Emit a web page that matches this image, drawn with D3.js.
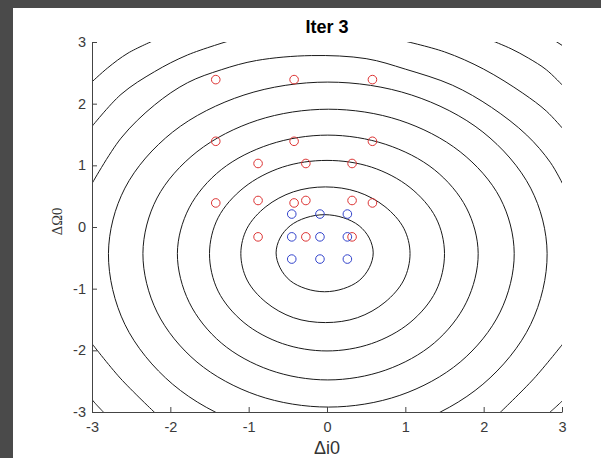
<!DOCTYPE html>
<html>
<head>
<meta charset="utf-8">
<title>Iter 3</title>
<script src="https://cdn.jsdelivr.net/npm/d3@7"></script>
<style>
  body { margin: 0; background: #4a4a4a; }
  svg { display: block; font-family: "Liberation Sans", Arial, sans-serif; }
</style>
</head>
<body>
<div id="chart"></div>
<script>
// Tick values on both axes
const xTicks = [-3, -2, -1, 0, 1, 2, 3];
const yTicks = [-3, -2, -1, 0, 1, 2, 3];

// Sample points
const redPoints = [
    [-1.42, 2.39], [-0.42, 2.39], [0.58, 2.39],
    [-1.42, 1.39], [-0.42, 1.39], [0.58, 1.39],
    [-1.42, 0.39], [-0.42, 0.39], [0.58, 0.39],
    [-0.88, 1.03], [-0.27, 1.03], [0.32, 1.03],
    [-0.88, 0.43], [-0.27, 0.43], [0.32, 0.43],
    [-0.88, -0.16], [-0.27, -0.16], [0.32, -0.16]
];
const bluePoints = [
    [-0.45, 0.21], [-0.09, 0.21], [0.26, 0.21],
    [-0.45, -0.16], [-0.09, -0.16], [0.26, -0.16],
    [-0.45, -0.52], [-0.09, -0.52], [0.26, -0.52]
];

// Closed contour rings, innermost first
const closedContours = [
    [[0.59,-0.42],[0.54,-0.18],[0.41,0.02],[0.21,0.15],[-0.03,0.20],[-0.27,0.15],[-0.47,0.02],[-0.60,-0.18],
     [-0.65,-0.42],[-0.60,-0.66],[-0.47,-0.87],[-0.27,-1.00],[-0.03,-1.05],[0.21,-1.00],[0.41,-0.87],[0.54,-0.66]],
    [[1.06,-0.43],[0.98,-0.02],[0.74,0.33],[0.39,0.57],[-0.02,0.65],[-0.43,0.57],[-0.78,0.33],[-1.02,-0.02],
     [-1.10,-0.43],[-1.02,-0.86],[-0.78,-1.22],[-0.43,-1.47],[-0.02,-1.55],[0.39,-1.47],[0.74,-1.22],[0.98,-0.86]],
    [[1.50,-0.43],[1.39,0.15],[1.06,0.64],[0.57,0.97],[0.00,1.08],[-0.57,0.97],[-1.06,0.64],[-1.39,0.15],
     [-1.50,-0.43],[-1.39,-1.04],[-1.06,-1.55],[-0.57,-1.89],[0.00,-2.01],[0.57,-1.89],[1.06,-1.55],[1.39,-1.04]],
    [[1.93,-0.43],[1.78,0.31],[1.37,0.93],[0.75,1.34],[0.01,1.49],[-0.73,1.34],[-1.35,0.93],[-1.76,0.31],
     [-1.91,-0.43],[-1.76,-1.22],[-1.35,-1.88],[-0.73,-2.32],[0.01,-2.48],[0.75,-2.32],[1.37,-1.88],[1.78,-1.22]],
    [[2.39,-0.43],[2.21,0.47],[1.70,1.22],[0.93,1.73],[0.02,1.91],[-0.89,1.73],[-1.66,1.22],[-2.17,0.47],
     [-2.35,-0.43],[-2.17,-1.38],[-1.66,-2.19],[-0.89,-2.73],[0.02,-2.92],[0.93,-2.73],[1.70,-2.19],[2.21,-1.38]],
    [[2.81,-0.43],[2.60,0.63],[1.99,1.54],[1.08,2.14],[0.01,2.35],[-1.06,2.14],[-1.97,1.54],[-2.58,0.63],
     [-2.79,-0.43],[-2.58,-1.58],[-1.97,-2.55],[-1.06,-3.20],[0.01,-3.43],[1.08,-3.20],[1.99,-2.55],[2.60,-1.58]]
];

// Contour pieces cut by the axes box
const openContours = [
    [[-3.02,0.66],[-2.63,1.44],[-2.20,1.98],[-1.78,2.34],[-1.35,2.55],[-0.90,2.70],[-0.20,2.78],
     [0.50,2.73],[1.00,2.56],[1.60,2.30],[2.10,1.94],[2.55,1.49],[2.85,1.05],[3.02,0.67]],
    [[-3.02,-1.86],[-2.64,-2.45],[-2.19,-3.02]],
    [[3.02,-1.88],[2.64,-2.46],[2.20,-3.02]],
    [[-1.22,3.03],[-1.78,2.79],[-2.20,2.52],[-2.63,2.15],[-3.02,1.60]],
    [[0.94,3.03],[1.50,2.84],[2.00,2.56],[2.50,2.17],[2.80,1.88],[3.02,1.58]],
    [[-3.02,-2.77],[-2.93,-2.90],[-2.84,-3.02]],
    [[3.02,-2.80],[2.92,-2.92],[2.83,-3.02]],
    [[-2.20,3.03],[-2.54,2.82],[-2.80,2.58],[-3.02,2.33]],
    [[2.09,3.03],[2.35,2.89],[2.57,2.74],[2.80,2.55],[3.02,2.28]],
    [[2.91,3.02],[3.02,2.93]]
];

const W = 601, H = 458;
const plot = {left: 92, right: 562, top: 42, bottom: 412};

const svg = d3.select("#chart").append("svg")
    .attr("width", W)
    .attr("height", H);

// figure background
svg.append("rect").attr("width", W).attr("height", H).attr("fill", "#4a4a4a");
svg.append("rect").attr("x", 13).attr("y", 8).attr("width", W - 13).attr("height", H - 8).attr("fill", "#ffffff");

const x = d3.scaleLinear().domain([-3, 3]).range([plot.left, plot.right]);
const y = d3.scaleLinear().domain([-3, 3]).range([plot.bottom, plot.top]);

svg.append("clipPath").attr("id", "plot-clip")
    .append("rect")
    .attr("x", plot.left).attr("y", plot.top)
    .attr("width", plot.right - plot.left)
    .attr("height", plot.bottom - plot.top);

const contourLayer = svg.append("g").attr("clip-path", "url(#plot-clip)");

const ring = d3.line().x(d => x(d[0])).y(d => y(d[1])).curve(d3.curveCatmullRomClosed);
const arc = d3.line().x(d => x(d[0])).y(d => y(d[1])).curve(d3.curveCatmullRom);

contourLayer.selectAll("path.ring")
    .data(closedContours)
    .enter().append("path")
    .attr("class", "ring")
    .attr("d", ring)
    .attr("fill", "none")
    .attr("stroke", "#1a1a1a")
    .attr("stroke-width", 1);

contourLayer.selectAll("path.arc")
    .data(openContours)
    .enter().append("path")
    .attr("class", "arc")
    .attr("d", arc)
    .attr("fill", "none")
    .attr("stroke", "#1a1a1a")
    .attr("stroke-width", 1);

// Axes (MATLAB style: inward ticks, no box)
const fmt = d => String(d);

const xAxis = svg.append("g")
    .attr("transform", `translate(0,${plot.bottom})`)
    .call(d3.axisBottom(x).tickValues(xTicks).tickFormat(fmt).tickSizeInner(-5).tickSizeOuter(0).tickPadding(10));

const yAxis = svg.append("g")
    .attr("transform", `translate(${plot.left},0)`)
    .call(d3.axisLeft(y).tickValues(yTicks).tickFormat(fmt).tickSizeInner(-5).tickSizeOuter(0).tickPadding(6));

[xAxis, yAxis].forEach(g => {
    g.select(".domain").attr("stroke", "#444");
    g.selectAll(".tick line").attr("stroke", "#444");
    g.selectAll(".tick text")
        .attr("fill", "#3a3a3a")
        .style("font-size", "14.5px")
        .style("font-family", "'Liberation Sans', Arial, sans-serif");
});

// Markers
svg.append("g").selectAll("circle")
    .data(redPoints)
    .enter().append("circle")
    .attr("cx", d => x(d[0]))
    .attr("cy", d => y(d[1]))
    .attr("r", 4.3)
    .attr("fill", "none")
    .attr("stroke", "#dd3333")
    .attr("stroke-width", 1);

svg.append("g").selectAll("circle")
    .data(bluePoints)
    .enter().append("circle")
    .attr("cx", d => x(d[0]))
    .attr("cy", d => y(d[1]))
    .attr("r", 4.3)
    .attr("fill", "none")
    .attr("stroke", "#3344cc")
    .attr("stroke-width", 1);

// Title and labels
svg.append("text")
    .attr("x", x(0))
    .attr("y", 33)
    .attr("text-anchor", "middle")
    .style("font-size", "18px")
    .style("font-weight", "bold")
    .attr("fill", "#000")
    .text("Iter 3");

svg.append("text")
    .attr("x", x(0))
    .attr("y", 454)
    .attr("text-anchor", "middle")
    .style("font-size", "18px")
    .attr("fill", "#333")
    .text("\u0394i0");

svg.append("text")
    .attr("transform", "translate(62,221.5) rotate(-90)")
    .attr("text-anchor", "middle")
    .style("font-size", "14.5px")
    .style("font-family", "'Liberation Serif', 'DejaVu Serif', serif")
    .attr("fill", "#333")
    .text("\u0394\u03A90");
</script>
</body>
</html>
